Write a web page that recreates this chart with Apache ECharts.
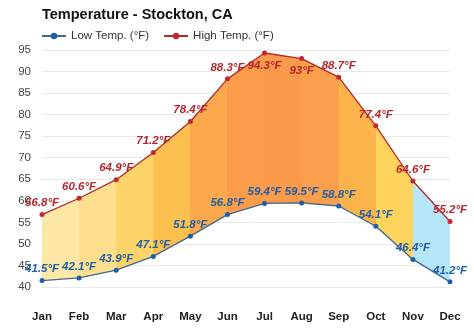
<!DOCTYPE html>
<html>
<head>
<meta charset="utf-8">
<script src="https://cdn.jsdelivr.net/npm/echarts@6/dist/echarts.min.js"></script>
<style>
html,body{margin:0;padding:0;background:#fff;}
#chart{width:474px;height:331px;}
</style>
</head>
<body>
<div id="chart"></div>
<script>
const months = ['Jan','Feb','Mar','Apr','May','Jun','Jul','Aug','Sep','Oct','Nov','Dec'];
const lowTemps = [41.5, 42.1, 43.9, 47.1, 51.8, 56.8, 59.4, 59.5, 58.8, 54.1, 46.4, 41.2];
const highTemps = [56.8, 60.6, 64.9, 71.2, 78.4, 88.3, 94.3, 93, 88.7, 77.4, 64.6, 55.2];
const bandColors = ['#fde7a4','#fedf90','#fdd36a','#fbc04e','#fba94c','#fa9c4a','#fa9a4a','#fa9f4b','#fbb34c','#fdd35c','#b4e6f7'];
const yTicks = {min: 40, max: 95, step: 5};

const n = bandColors.length;
const stops = [];
bandColors.forEach((c, i) => {
  stops.push({offset: i / n, color: c});
  stops.push({offset: (i + 1) / n, color: c});
});
// stacked difference so the fill spans low..high; labels that would leave the plot go inside
const diffData = highTemps.map((h, i) => {
  const v = +(h - lowTemps[i]).toFixed(2);
  return h > 90 ? {value: v, label: {position: 'bottom', distance: 4}} : v;
});

const font = 'Liberation Sans, Arial, sans-serif';
const chart = echarts.init(document.getElementById('chart'), null, {renderer: 'canvas'});
chart.setOption({
  animation: false,
  backgroundColor: '#fff',
  title: {
    text: 'Temperature - Stockton, CA',
    left: 37, top: 2,
    textStyle: {fontFamily: font, fontSize: 14.5, fontWeight: 'bold', color: '#111'}
  },
  legend: {
    left: 36, top: 25,
    itemWidth: 24, itemHeight: 8, itemGap: 14,
    textStyle: {fontFamily: font, fontSize: 11.5, color: '#333'},
    data: ['Low Temp. (°F)', 'High Temp. (°F)']
  },
  grid: {left: 42, right: 24, top: 50, bottom: 44, containLabel: false},
  xAxis: {
    type: 'category',
    data: months,
    boundaryGap: false,
    axisLine: {show: false},
    axisTick: {show: false},
    axisLabel: {fontFamily: font, fontSize: 11.5, fontWeight: 'bold', color: '#222', margin: 24},
    splitLine: {show: false}
  },
  yAxis: {
    type: 'value',
    min: yTicks.min, max: yTicks.max, interval: yTicks.step,
    axisLine: {show: false},
    axisTick: {show: false},
    axisLabel: {fontFamily: font, fontSize: 11.5, color: '#444', margin: 11},
    splitLine: {lineStyle: {color: '#e8e8e8', width: 1}}
  },
  series: [
    {
      name: 'Low Temp. (°F)',
      type: 'line',
      stack: 'temp',
      data: lowTemps,
      z: 4,
      symbol: 'circle',
      symbolSize: 5,
      lineStyle: {color: '#3f6a8e', width: 1.3},
      itemStyle: {color: '#1f5ea8'},
      label: {
        show: true, position: 'top', distance: 3,
        formatter: p => lowTemps[p.dataIndex] + '°F',
        fontFamily: font, fontSize: 11.5, fontWeight: 'bold', fontStyle: 'italic', color: '#1f5fa8'
      }
    },
    {
      name: 'High Temp. (°F)',
      type: 'line',
      stack: 'temp',
      data: diffData,
      z: 3,
      symbol: 'circle',
      symbolSize: 5,
      lineStyle: {color: '#b3272d', width: 1.3},
      itemStyle: {color: '#c0282d'},
      areaStyle: {
        opacity: 1,
        color: new echarts.graphic.LinearGradient(0, 0, 1, 0, stops)
      },
      label: {
        show: true, position: 'top', distance: 3,
        formatter: p => highTemps[p.dataIndex] + '°F',
        fontFamily: font, fontSize: 11.5, fontWeight: 'bold', fontStyle: 'italic', color: '#b5252b'
      }
    }
  ]
});
</script>
</body>
</html>
